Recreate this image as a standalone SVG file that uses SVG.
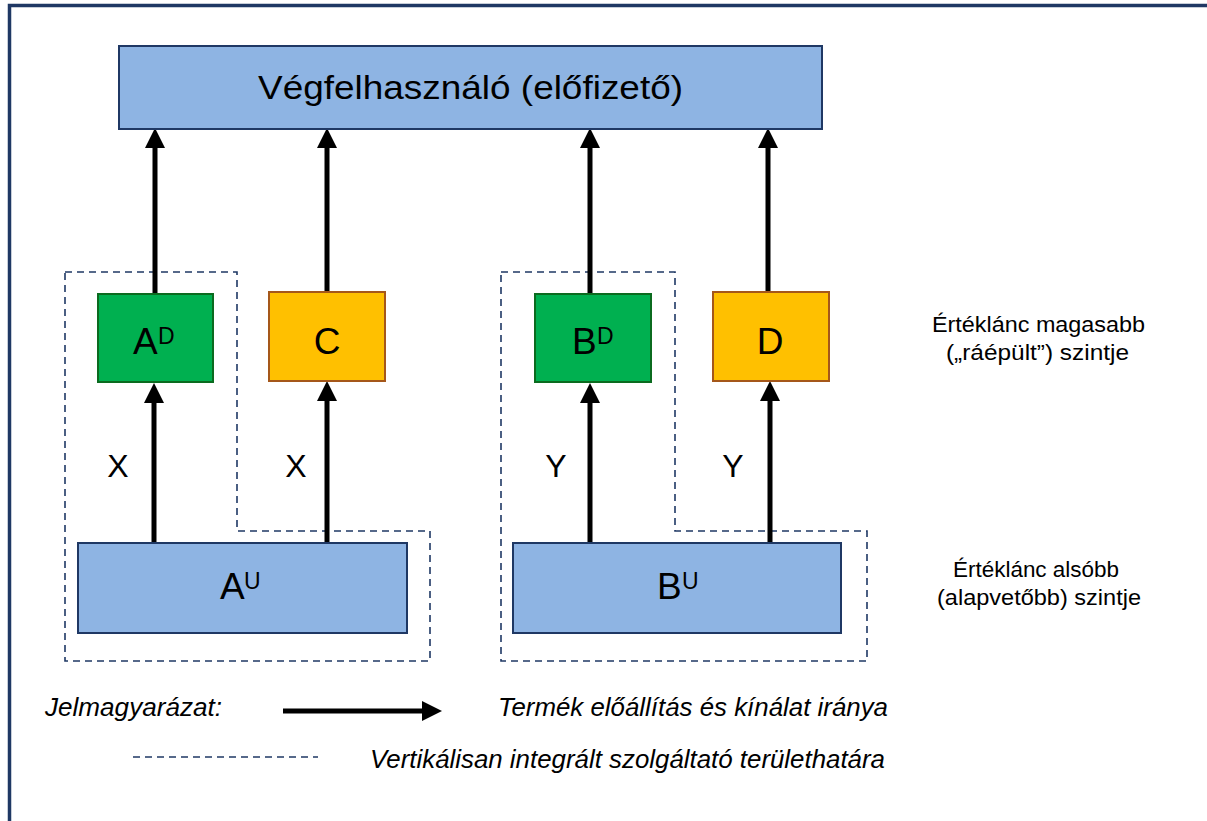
<svg xmlns="http://www.w3.org/2000/svg" width="1207" height="821" viewBox="0 0 1207 821">
<defs>
<style>
.t{font-family:"Liberation Sans",Arial,sans-serif;fill:#000}
.blue{fill:#8eb4e3;stroke:#1f3864;stroke-width:2}
.green{fill:#00b050;stroke:#0b6b1f;stroke-width:2}
.orange{fill:#ffc000;stroke:#a5571a;stroke-width:2}
.dash{fill:none;stroke:#1f3864;stroke-width:1.6;stroke-dasharray:7 5}
.arr{stroke:#000;stroke-width:5;fill:none;marker-end:url(#ah)}
.big{font-size:37px}
.sup{font-size:23px}
.lbl{font-size:22px}
.leg{font-size:25px;font-style:italic}
</style>
<marker id="ah" markerWidth="4" markerHeight="4" refX="2.2" refY="2" orient="auto" markerUnits="strokeWidth" viewBox="0 0 4 4">
<path d="M0,0 L4,2 L0,4 Z" fill="#000"/>
</marker>
</defs>
<rect width="1207" height="821" fill="#fff"/>
<rect x="9.5" y="5.5" width="1220" height="840" fill="none" stroke="#1f3864" stroke-width="3.5"/>

<g id="boundaries">
<path class="dash" d="M65,272 H237 V531 H430 V661 H65 Z"/>
<path class="dash" d="M501,272 H675 V531 H867 V661 H501 Z"/>
</g>

<g id="connectors">
<line class="arr" x1="155" y1="294" x2="155" y2="137"/>
<line class="arr" x1="327" y1="292" x2="327" y2="137"/>
<line class="arr" x1="590" y1="294" x2="590" y2="137"/>
<line class="arr" x1="768" y1="292" x2="768" y2="137"/>
<line class="arr" x1="154" y1="543" x2="154" y2="392"/>
<line class="arr" x1="327" y1="543" x2="327" y2="390"/>
<line class="arr" x1="590" y1="543" x2="590" y2="392"/>
<line class="arr" x1="770" y1="543" x2="770" y2="390"/>
</g>

<g id="vegfelhasznalo">
<rect class="blue" x="119" y="46" width="703" height="83"/>
<text class="t" x="258" y="99" font-size="33" textLength="425" lengthAdjust="spacingAndGlyphs">Végfelhasználó (előfizető)</text>
</g>
<g id="AD">
<rect class="green" x="98" y="294" width="115" height="88"/>
<text class="t big" x="133" y="354">A</text><text class="t sup" x="158" y="344">D</text>
</g>
<g id="C">
<rect class="orange" x="269" y="292" width="116" height="89"/>
<text class="t big" x="327" y="354" text-anchor="middle">C</text>
</g>
<g id="BD">
<rect class="green" x="535" y="294" width="116" height="88"/>
<text class="t big" x="572" y="354">B</text><text class="t sup" x="597" y="344">D</text>
</g>
<g id="D">
<rect class="orange" x="713" y="292" width="116" height="89"/>
<text class="t big" x="770" y="354" text-anchor="middle">D</text>
</g>
<g id="AU">
<rect class="blue" x="78" y="543" width="329" height="90"/>
<text class="t big" x="220" y="599">A</text><text class="t sup" x="244" y="589">U</text>
</g>
<g id="BU">
<rect class="blue" x="513" y="543" width="328" height="90"/>
<text class="t big" x="657" y="599">B</text><text class="t sup" x="682" y="589">U</text>
</g>

<g id="labels">
<text class="t" x="118" y="477" font-size="32" text-anchor="middle">X</text>
<text class="t" x="296" y="477" font-size="32" text-anchor="middle">X</text>
<text class="t" x="556" y="477" font-size="32" text-anchor="middle">Y</text>
<text class="t" x="733" y="477" font-size="32" text-anchor="middle">Y</text>
<text class="t lbl" x="932" y="332" textLength="213" lengthAdjust="spacingAndGlyphs">Értéklánc magasabb</text>
<text class="t lbl" x="946" y="360" textLength="183" lengthAdjust="spacingAndGlyphs">(„ráépült”) szintje</text>
<text class="t lbl" x="953" y="577" textLength="166" lengthAdjust="spacingAndGlyphs">Értéklánc alsóbb</text>
<text class="t lbl" x="937" y="605" textLength="204" lengthAdjust="spacingAndGlyphs">(alapvetőbb) szintje</text>
</g>

<g id="legend">
<text class="t leg" x="45" y="716" textLength="177" lengthAdjust="spacingAndGlyphs">Jelmagyarázat:</text>
<line class="arr" x1="283" y1="711" x2="433" y2="711"/>
<text class="t leg" x="498" y="716" textLength="390" lengthAdjust="spacingAndGlyphs">Termék előállítás és kínálat iránya</text>
<line class="dash" x1="133" y1="757" x2="318" y2="757"/>
<text class="t leg" x="370" y="768" textLength="515" lengthAdjust="spacingAndGlyphs">Vertikálisan integrált szolgáltató területhatára</text>
</g>
</svg>
